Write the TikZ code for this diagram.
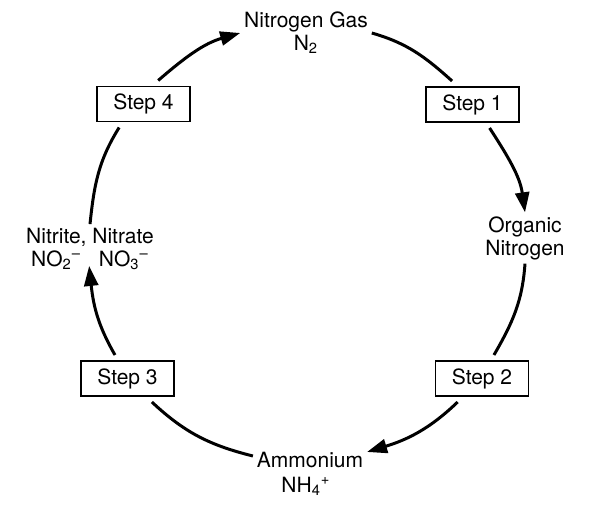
\documentclass[tikz,border=0pt]{standalone}
\usepackage{fontspec}
\setmainfont{TeX Gyre Heros}
\usetikzlibrary{arrows.meta}

\begin{document}
\begin{tikzpicture}[x = 0.5pt, y = -0.5pt,
    every node/.style = {font=\fontsize{10.5pt}{11.5pt}\selectfont},
    box/.style = {draw, line width=0.6pt, minimum width=46.5pt, minimum height=17.5pt, inner sep=0pt, outer sep=3pt},
    chem/.style = {align=center, inner sep=2pt, outer sep=0pt},
    cyc/.style = {line width=1.5pt},
    tip/.style = {-{Triangle[length=10pt, width=7pt]}}]
    \useasboundingbox (0,0) rectangle (607,517);

    \node[chem] (gas) at (306,33) {Nitrogen Gas\\N\textsubscript{2}};
    \node[chem] (org) at (525,238) {Organic\\Nitrogen};
    \node[chem] (amm) at (310,460) {Ammonium};
    \node[chem, inner sep=1pt] (ammf) at (306,486) {NH\textsubscript{4}\textsuperscript{+}};
    \node[chem] (nit) at (90,249) {Nitrite, Nitrate\\NO\textsubscript{2}\textsuperscript{–}\hspace{9pt}NO\textsubscript{3}\textsuperscript{–}};

    \node[box] (s1) at (472.5,104.5) {Step 1};
    \node[box] (s2) at (482,378.5) {Step 2};
    \node[box] (s3) at (127.5,378.5) {Step 3};
    \node[box] (s4) at (143.5,104) {Step 4};

    \draw[cyc] (gas.east) to[out=-16, in=138] (s1.131);
    \draw[cyc, tip] (s1.306) to[out=-57, in=98] (org.north);
    \draw[cyc] (org.south) to[out=-94, in=60] (s2.63);
    \draw[cyc, tip] (s2.224) to[out=-136, in=17] (amm.8);
    \draw[cyc] (amm.176) to[out=166, in=-43] (s3.316);
    \draw[cyc, tip, shorten >=-4pt] (s3.118) to[out=120, in=-84] (nit.south);
    \draw[cyc] (nit.north) to[out=84, in=-122] (s4.224);
    \draw[cyc, tip] (s4.58) to[out=41, in=196] (gas.west);
\end{tikzpicture}
\end{document}
